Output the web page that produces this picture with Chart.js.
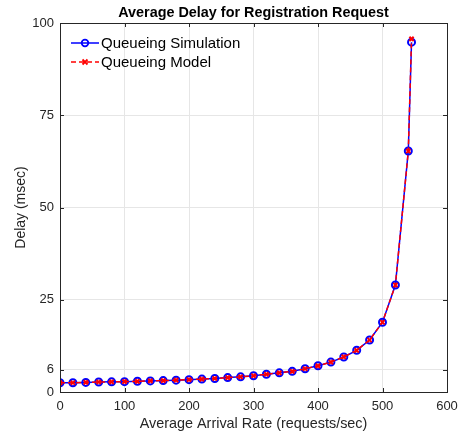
<!DOCTYPE html>
<html>
<head>
<meta charset="utf-8">
<script src="https://cdn.jsdelivr.net/npm/chart.js@4/dist/chart.umd.min.js"></script>
<style>
html,body{margin:0;padding:0;background:#fff;}
#wrap{width:465px;height:437px;}
</style>
</head>
<body>
<div id="wrap"><canvas id="c" width="465" height="437" style="width:465px;height:437px"></canvas></div>
<script>
const chartTitle = "Average Delay for Registration Request";
const xLabel = "Average Arrival Rate (requests/sec)";
const yLabel = "Delay (msec)";
const arrivalRates = [0,20,40,60,80,100,120,140,160,180,200,220,240,260,280,300,320,340,360,380,400,420,440,460,480,500,520,540,545];
const simulationDelay = [2.5,2.5,2.6,2.7,2.75,2.8,2.9,3.0,3.1,3.2,3.35,3.5,3.65,3.9,4.1,4.4,4.8,5.2,5.6,6.3,7.1,8.1,9.5,11.3,14.1,18.9,29.0,65.3,94.8];
const modelDelay = [2.5,2.5,2.6,2.7,2.75,2.8,2.9,3.0,3.1,3.2,3.35,3.5,3.65,3.9,4.1,4.4,4.8,5.2,5.6,6.3,7.1,8.1,9.5,11.3,14.1,18.9,29.0,65.3,95.7];
const yTicks = [0,6,25,50,75,100];
const xTicks = [0,100,200,300,400,500,600];
const seriesNames = ["Queueing Simulation","Queueing Model"];

const FONT = "'Liberation Sans', Arial, sans-serif";
const AXIS = '#262626';

const decorPlugin = {
  id: 'decor',
  afterDraw(chart) {
    const ctx = chart.ctx, a = chart.chartArea;
    const xs = chart.scales.x, ys = chart.scales.y;
    ctx.save();
    ctx.strokeStyle = AXIS; ctx.lineWidth = 1;
    ctx.strokeRect(Math.round(a.left)+0.5, Math.round(a.top)+0.5, Math.round(a.right-a.left), Math.round(a.bottom-a.top));
    const tl = 4;
    ctx.beginPath();
    xTicks.forEach(v => {
      const px = Math.round(xs.getPixelForValue(v)) + 0.5;
      ctx.moveTo(px, a.bottom); ctx.lineTo(px, a.bottom - tl);
      ctx.moveTo(px, a.top); ctx.lineTo(px, a.top + tl);
    });
    yTicks.forEach(v => {
      const py = Math.round(ys.getPixelForValue(v)) + 0.5;
      ctx.moveTo(a.left, py); ctx.lineTo(a.left + tl, py);
      ctx.moveTo(a.right, py); ctx.lineTo(a.right - tl, py);
    });
    ctx.stroke();
    ctx.fillStyle = '#000';
    ctx.font = 'bold 14.4px ' + FONT;
    ctx.textAlign = 'center'; ctx.textBaseline = 'middle';
    ctx.fillText(chartTitle, (a.left + a.right)/2, 13);
    ctx.font = '15px ' + FONT;
    ctx.textAlign = 'left';
    const rows = [{y:43, color:'#0000ff', dash:[], marker:'o', ds:1}, {y:62, color:'#ff0000', dash:[5,3], marker:'x', ds:0}];
    rows.forEach(r => {
      ctx.strokeStyle = r.color; ctx.lineWidth = 1.5;
      ctx.setLineDash(r.dash);
      ctx.beginPath(); ctx.moveTo(71, r.y); ctx.lineTo(99, r.y); ctx.stroke();
      ctx.setLineDash([]);
      ctx.beginPath();
      if (r.marker === 'o') { ctx.lineWidth = 1.8; ctx.arc(85, r.y, 3.3, 0, Math.PI*2); }
      else { ctx.lineWidth = 1.8; ctx.moveTo(82.5, r.y-2.5); ctx.lineTo(87.5, r.y+2.5); ctx.moveTo(87.5, r.y-2.5); ctx.lineTo(82.5, r.y+2.5); }
      ctx.stroke();
      ctx.fillStyle = '#000';
      ctx.fillText(chart.data.datasets[r.ds].label, 101, r.y + 1);
    });
    ctx.restore();
  }
};

const toPts = (ys) => arrivalRates.map((x, i) => ({x, y: ys[i]}));

new Chart(document.getElementById('c'), {
  type: 'line',
  data: {
    datasets: [
      { label: seriesNames[1], data: toPts(modelDelay), borderColor: '#ff0000', backgroundColor: '#ff0000',
        borderWidth: 1.5, borderDash: [5,3], pointStyle: 'crossRot', pointRadius: 3, pointBorderWidth: 2,
        pointBorderColor: '#ff0000', order: 1, tension: 0 },
      { label: seriesNames[0], data: toPts(simulationDelay), borderColor: '#0000ff', backgroundColor: 'rgba(0,0,0,0)',
        borderWidth: 1.5, pointStyle: 'circle', pointRadius: 3.5, pointBorderWidth: 2,
        pointBorderColor: '#0000ff', pointBackgroundColor: 'rgba(0,0,0,0)', order: 2, tension: 0 }
    ]
  },
  options: {
    responsive: false, animation: false,
    layout: { padding: { left: 0, top: 23, right: 18, bottom: 0 } },
    plugins: { legend: { display: false }, title: { display: false }, tooltip: { enabled: false } },
    scales: {
      x: {
        type: 'linear', min: 0, max: 600,
        afterBuildTicks: s => { s.ticks = xTicks.map(v => ({value: v})); },
        afterFit: s => { s.height = 45; },
        grid: { color: '#e6e6e6', drawTicks: false, lineWidth: 1 },
        border: { display: false },
        ticks: { color: AXIS, font: { family: FONT, size: 13 }, padding: 7, maxRotation: 0 },
        title: { display: true, text: xLabel, color: AXIS, font: { family: FONT, size: 14.4 }, padding: { top: 0, bottom: 4 } }
      },
      y: {
        type: 'linear', min: 0, max: 100,
        afterBuildTicks: s => { s.ticks = yTicks.map(v => ({value: v})); },
        afterFit: s => { s.width = 60; },
        grid: { color: '#e6e6e6', drawTicks: false, lineWidth: 1 },
        border: { display: false },
        ticks: { color: AXIS, font: { family: FONT, size: 13 }, padding: 6 },
        title: { display: true, text: yLabel, color: AXIS, font: { family: FONT, size: 14 }, padding: { top: 13, bottom: 0 } }
      }
    }
  },
  plugins: [decorPlugin]
});
</script>
</body>
</html>
